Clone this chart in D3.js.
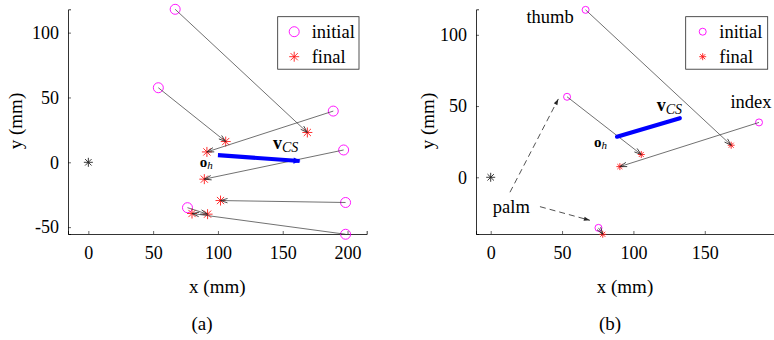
<!DOCTYPE html>
<html>
<head>
<meta charset="utf-8">
<script src="https://cdn.jsdelivr.net/npm/d3@7"></script>
</head>
<body style="margin:0">
<svg id="chart" width="774" height="340" font-family="serif"></svg>
<script>
// panel (a): fingertip positions (mm)
const initialA = [[67, 118], [54, 57.5], [189, 39.5], [197, 9.5], [198.5, -31], [198.5, -55.5], [76.5, -35]];
const finalA = [[169, 23], [106, 16], [91.5, 8], [89.5, -13], [102, -29.5], [80, -39.5], [92, -40]];
const vcsA = [[100, 5.5], [163, 1]];

// panel (b)
const initialB = [[66.5, 117.5], [53.5, 56.5], [188, 38.5], [75.5, -35.5]];
const finalB = [[168.5, 22.5], [105.5, 16], [90.5, 7.5], [78.5, -40]];
const vcsB = [[88.5, 28.5], [132.5, 41.5]];
const namesB = [{ t: "thumb", x: 25, y: 108 }, { t: "index", x: 168, y: 48.5 }, { t: "palm", x: 1.5, y: -25 }];
const palmArrowsB = [[[13.5, -10.5], [47.4, 55]], [[34.5, -20.6], [69.5, -30.2]]];

const xTicksA = [0, 50, 100, 150, 200];
const yTicksA = [-50, 0, 50, 100];
const xTicksB = [0, 50, 100, 150];
const yTicksB = [0, 50, 100];

const FONT = "serif";
const svg = d3.select("#chart");
const defs = svg.append("defs");

defs.append("marker")
    .attr("id", "head")
    .attr("viewBox", "-8 -4 9 8")
    .attr("refX", 0).attr("refY", 0)
    .attr("markerWidth", 9).attr("markerHeight", 8)
    .attr("markerUnits", "userSpaceOnUse")
    .attr("orient", "auto")
    .append("path")
    .attr("d", "M-7,-2.2 L0,0 L-7,2.2")
    .attr("fill", "none")
    .attr("stroke", "#262626")
    .attr("stroke-width", 0.8);

defs.append("marker")
    .attr("id", "dhead")
    .attr("viewBox", "-8 -4 9 8")
    .attr("refX", 0).attr("refY", 0)
    .attr("markerWidth", 9).attr("markerHeight", 8)
    .attr("markerUnits", "userSpaceOnUse")
    .attr("orient", "auto")
    .append("path")
    .attr("d", "M-6,-2 L0,0 L-6,2 Z")
    .attr("fill", "#262626");

defs.append("marker")
    .attr("id", "bhead")
    .attr("viewBox", "-8 -4 9 8")
    .attr("refX", 0).attr("refY", 0)
    .attr("markerWidth", 9).attr("markerHeight", 8)
    .attr("markerUnits", "userSpaceOnUse")
    .attr("orient", "auto")
    .append("path")
    .attr("d", "M-6,-3.2 L1,0 L-6,3.2 Z")
    .attr("fill", "blue");

function starPath(s) {
    const h = s / 2, d = h * 0.72;
    return `M${-h},0L${h},0M0,${-h}L0,${h}M${-d},${-d}L${d},${d}M${-d},${d}L${d},${-d}`;
}

function drawPanel(o) {
    const g = svg.append("g").attr("font-family", FONT);
    const x = d3.scaleLinear().domain(o.xDom).range(o.xRange);
    const y = d3.scaleLinear().domain(o.yDom).range([234, 9.3]);

    // axes (box off, ticks inward)
    const xAxis = g.append("g").attr("transform", "translate(0,234)")
        .call(d3.axisBottom(x).tickValues(o.xTicks).tickSize(-3).tickPadding(12).tickFormat(d3.format("d")));
    const yAxis = g.append("g").attr("transform", `translate(${o.xRange[0]},0)`)
        .call(d3.axisLeft(y).tickValues(o.yTicks).tickSize(-3).tickPadding(9).tickFormat(d3.format("d")));
    [xAxis, yAxis].forEach(a => {
        a.attr("font-family", FONT).attr("font-size", 18);
        a.select(".domain").attr("stroke-width", 0.8);
        a.selectAll(".tick line").attr("stroke-width", 0.6);
    });
    yAxis.selectAll(".tick text").text(d => d < 0 ? "-" + Math.abs(d) : d);

    // axis labels
    const xc = (o.xRange[0] + o.xRange[1]) / 2;
    g.append("text").attr("x", xc).attr("y", 293).attr("text-anchor", "middle")
        .attr("font-size", 19).text("x (mm)");
    g.append("text").attr("transform", `translate(${o.yLabelX},121) rotate(-90)`)
        .attr("text-anchor", "middle").attr("font-size", 19).text("y (mm)");
    g.append("text").attr("x", o.capX).attr("y", 330).attr("text-anchor", "middle")
        .attr("font-size", 19).text(o.caption);

    // origin
    g.append("path").attr("transform", `translate(${x(0)},${y(0)})`)
        .attr("d", starPath(9)).attr("stroke", "#222").attr("stroke-width", 0.9);

    // initial positions
    g.selectAll("circle.init").data(o.init).enter().append("circle")
        .attr("class", "init")
        .attr("cx", d => x(d[0])).attr("cy", d => y(d[1]))
        .attr("r", o.r)
        .attr("fill", "none").attr("stroke", "#ff00ff").attr("stroke-width", 0.9);

    // final positions
    g.selectAll("path.fin").data(o.fin).enter().append("path")
        .attr("class", "fin")
        .attr("transform", d => `translate(${x(d[0])},${y(d[1])})`)
        .attr("d", starPath(o.s))
        .attr("stroke", "#ff1a1a").attr("stroke-width", 0.9);

    // displacement arrows
    g.selectAll("line.mv").data(o.init).enter().append("line")
        .attr("class", "mv")
        .attr("x1", d => x(d[0])).attr("y1", d => y(d[1]))
        .attr("x2", (d, i) => x(o.fin[i][0])).attr("y2", (d, i) => y(o.fin[i][1]))
        .attr("stroke", "#333").attr("stroke-width", 0.7)
        .attr("marker-end", "url(#head)");

    // v_CS
    const vline = g.append("line")
        .attr("x1", x(o.vcs[0][0])).attr("y1", y(o.vcs[0][1]))
        .attr("x2", x(o.vcs[1][0])).attr("y2", y(o.vcs[1][1]))
        .attr("stroke", "blue").attr("stroke-width", 4.2)
        .attr("stroke-linecap", o.vArrow ? "butt" : "round");
    if (o.vArrow) vline.attr("marker-end", "url(#bhead)");

    const vt = g.append("text").attr("x", x(o.vLab[0])).attr("y", y(o.vLab[1])).attr("font-size", 18);
    vt.append("tspan").attr("font-weight", "bold").text("v");
    vt.append("tspan").attr("font-style", "italic").attr("font-size", 14).attr("dy", 3).text("CS");

    const ot = g.append("text").attr("x", x(o.oLab[0])).attr("y", y(o.oLab[1])).attr("font-size", 15);
    ot.append("tspan").attr("font-weight", "bold").text("o");
    ot.append("tspan").attr("font-style", "italic").attr("font-size", 11).attr("dy", 2).text("h");

    // legend
    const lg = g.append("g").attr("transform", `translate(${o.leg[0]},${o.leg[1]})`);
    lg.append("rect").attr("width", o.leg[2]).attr("height", 52.5)
        .attr("fill", "#fff").attr("stroke", "#262626").attr("stroke-width", 0.8);
    lg.append("circle").attr("cx", o.leg[3]).attr("cy", 15).attr("r", o.r)
        .attr("fill", "none").attr("stroke", "#ff00ff").attr("stroke-width", 0.9);
    lg.append("path").attr("transform", `translate(${o.leg[3]},40)`).attr("d", starPath(o.s))
        .attr("stroke", "#ff1a1a").attr("stroke-width", 0.9);
    lg.append("text").attr("x", o.leg[4]).attr("y", 21).attr("font-size", 18.5).text("initial");
    lg.append("text").attr("x", o.leg[4]).attr("y", 46).attr("font-size", 18.5).text("final");

    return { g, x, y };
}

drawPanel({
    xDom: [-15.7, 214.8], xRange: [68, 366.7], yDom: [-55.3, 118],
    xTicks: xTicksA, yTicks: yTicksA,
    init: initialA, fin: finalA, vcs: vcsA, vArrow: true,
    vLab: [142.5, 10.5], oLab: [86, -3.5],
    r: 5, s: 10, yLabelX: 22, capX: 202, caption: "(a)",
    leg: [277.7, 16.7, 81.3, 16.5, 34]
});

const pb = drawPanel({
    xDom: [-10.3, 198.5], xRange: [476, 774], yDom: [-39.8, 117.9],
    xTicks: xTicksB, yTicks: yTicksB,
    init: initialB, fin: finalB, vcs: vcsB, vArrow: false,
    vLab: [116.3, 46.7], oLab: [72.4, 21.3],
    r: 3.5, s: 7, yLabelX: 434, capX: 610, caption: "(b)",
    leg: [685.7, 16.7, 82, 17, 33.6]
});

// finger names and palm pointers (b)
pb.g.selectAll("text.name").data(namesB).enter().append("text")
    .attr("class", "name")
    .attr("x", d => pb.x(d.x)).attr("y", d => pb.y(d.y))
    .attr("font-size", 18.5).text(d => d.t);

pb.g.selectAll("line.palm").data(palmArrowsB).enter().append("line")
    .attr("class", "palm")
    .attr("x1", d => pb.x(d[0][0])).attr("y1", d => pb.y(d[0][1]))
    .attr("x2", d => pb.x(d[1][0])).attr("y2", d => pb.y(d[1][1]))
    .attr("stroke", "#262626").attr("stroke-width", 0.8)
    .attr("stroke-dasharray", "6,4")
    .attr("marker-end", "url(#dhead)");
</script>
</body>
</html>
